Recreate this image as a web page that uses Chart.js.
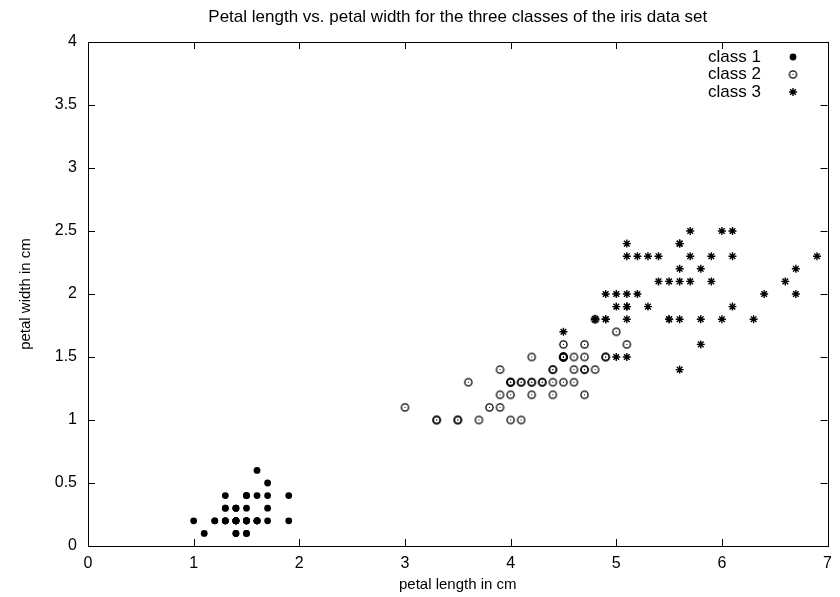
<!DOCTYPE html>
<html>
<head>
<meta charset="utf-8">
<script src="https://cdn.jsdelivr.net/npm/chart.js@4.4.1/dist/chart.umd.min.js"></script>
<style>
  html, body { margin: 0; padding: 0; background: #fff; }
  #wrap { width: 840px; height: 597px; }
</style>
</head>
<body>
<div id="wrap"><canvas id="irisChart" width="840" height="597"></canvas></div>
<script>
// datos: largo y ancho del pétalo (cm) para cada clase
const class1Length = [1.4,1.4,1.3,1.5,1.4,1.7,1.4,1.5,1.4,1.5,1.5,1.6,1.4,1.1,1.2,1.5,1.3,1.4,1.7,1.5,1.7,1.5,1.0,1.7,1.9,1.6,1.6,1.5,1.4,1.6,1.6,1.5,1.5,1.4,1.5,1.2,1.3,1.4,1.3,1.5,1.3,1.3,1.3,1.6,1.9,1.4,1.6,1.4,1.5,1.4];
const class1Width  = [0.2,0.2,0.2,0.2,0.2,0.4,0.3,0.2,0.2,0.1,0.2,0.2,0.1,0.1,0.2,0.4,0.4,0.3,0.3,0.3,0.2,0.4,0.2,0.5,0.2,0.2,0.4,0.2,0.2,0.2,0.2,0.4,0.1,0.2,0.2,0.2,0.2,0.1,0.2,0.2,0.3,0.3,0.2,0.6,0.4,0.3,0.2,0.2,0.2,0.2];

const class2Length = [4.7,4.5,4.9,4.0,4.6,4.5,4.7,3.3,4.6,3.9,3.5,4.2,4.0,4.7,3.6,4.4,4.5,4.1,4.5,3.9,4.8,4.0,4.9,4.7,4.3,4.4,4.8,5.0,4.5,3.5,3.8,3.7,3.9,5.1,4.5,4.5,4.7,4.4,4.1,4.0,4.4,4.6,4.0,3.3,4.2,4.2,4.2,4.3,3.0,4.1];
const class2Width  = [1.4,1.5,1.5,1.3,1.5,1.3,1.6,1.0,1.3,1.4,1.0,1.5,1.0,1.4,1.3,1.4,1.5,1.0,1.5,1.1,1.8,1.3,1.5,1.2,1.3,1.4,1.4,1.7,1.5,1.0,1.1,1.0,1.2,1.6,1.5,1.6,1.5,1.3,1.3,1.3,1.2,1.4,1.2,1.0,1.3,1.2,1.3,1.3,1.1,1.3];

const class3Length = [6.0,5.1,5.9,5.6,5.8,6.6,4.5,6.3,5.8,6.1,5.1,5.3,5.5,5.0,5.1,5.3,5.5,6.7,6.9,5.0,5.7,4.9,6.7,4.9,5.7,6.0,4.8,4.9,5.6,5.8,6.1,6.4,5.6,5.1,5.6,6.1,5.6,5.5,4.8,5.4,5.6,5.1,5.1,5.9,5.7,5.2,5.0,5.2,5.4,5.1];
const class3Width  = [2.5,1.9,2.1,1.8,2.2,2.1,1.7,1.8,1.8,2.5,2.0,1.9,2.1,2.0,2.4,2.3,1.8,2.2,2.3,1.5,2.3,2.0,2.0,1.8,2.1,1.8,1.8,1.8,2.1,1.6,1.9,2.0,2.2,1.5,1.4,2.3,2.4,1.8,1.8,2.1,2.4,2.3,1.9,2.3,2.5,2.3,1.9,2.0,2.3,1.8];

const classNames = ['class 1', 'class 2', 'class 3'];
const xTicks = [0, 1, 2, 3, 4, 5, 6, 7];
const yTicks = [0, 0.5, 1, 1.5, 2, 2.5, 3, 3.5, 4];

const FONT = 'Liberation Sans, Arial, Helvetica, sans-serif';

function toPoints(xs, ys) {
    return xs.map((x, i) => ({ x: x, y: ys[i] }));
}

// círculo abierto con punto central (marcador de la clase 2)
function makeDotCircle() {
    const c = document.createElement('canvas');
    c.width = 11; c.height = 11;
    const g = c.getContext('2d');
    g.strokeStyle = '#000';
    g.lineWidth = 1.3;
    g.beginPath();
    g.arc(5.5, 5.5, 3.6, 0, Math.PI * 2);
    g.stroke();
    g.fillStyle = '#000';
    g.fillRect(5, 5, 1, 1);
    return c;
}
const dotCircle = makeDotCircle();

const markerStyles = [
    { pointStyle: 'circle', radius: 3.4, backgroundColor: '#000', borderColor: '#000', borderWidth: 0 },
    { pointStyle: dotCircle, radius: 4, backgroundColor: '#000', borderColor: '#000', borderWidth: 1 },
    { pointStyle: 'star', radius: 4, backgroundColor: '#000', borderColor: '#000', borderWidth: 1.4 }
];

// marco, marcas interiores, título y leyenda
const framePlugin = {
    id: 'frame',
    afterDraw(chart) {
        const { ctx, chartArea: a, scales: { x, y } } = chart;
        ctx.save();
        ctx.strokeStyle = '#000';
        ctx.lineWidth = 1;
        ctx.strokeRect(Math.round(a.left) + 0.5, Math.round(a.top) + 0.5,
                       Math.round(a.right - a.left), Math.round(a.bottom - a.top));
        const tl = 7;
        ctx.beginPath();
        xTicks.forEach(v => {
            const px = Math.round(x.getPixelForValue(v)) + 0.5;
            ctx.moveTo(px, a.bottom); ctx.lineTo(px, a.bottom - tl);
            ctx.moveTo(px, a.top); ctx.lineTo(px, a.top + tl);
        });
        yTicks.forEach(v => {
            const py = Math.round(y.getPixelForValue(v)) + 0.5;
            ctx.moveTo(a.left, py); ctx.lineTo(a.left + tl, py);
            ctx.moveTo(a.right, py); ctx.lineTo(a.right - tl, py);
        });
        ctx.stroke();

        // título
        ctx.fillStyle = '#000';
        ctx.font = '17px ' + FONT;
        ctx.textAlign = 'center';
        ctx.textBaseline = 'middle';
        ctx.fillText('Petal length vs. petal width for the three classes of the iris data set',
                     (a.left + a.right) / 2, 17);

        // leyenda
        const rows = [57, 74.5, 92];
        ctx.textAlign = 'left';
        ctx.font = '17px ' + FONT;
        classNames.forEach((name, i) => {
            ctx.fillStyle = '#000';
            ctx.fillText(name, 708, rows[i]);
            const m = markerStyles[i];
            ctx.fillStyle = m.backgroundColor;
            ctx.strokeStyle = m.borderColor;
            ctx.lineWidth = m.borderWidth;
            Chart.helpers.drawPoint(ctx, {
                pointStyle: m.pointStyle, radius: m.radius, borderWidth: m.borderWidth, rotation: 0
            }, 793, rows[i]);
        });
        ctx.restore();
    }
};

const ctx = document.getElementById('irisChart').getContext('2d');
new Chart(ctx, {
    type: 'scatter',
    data: {
        datasets: [
            { label: classNames[0], data: toPoints(class1Length, class1Width), ...markerStyles[0] },
            { label: classNames[1], data: toPoints(class2Length, class2Width), ...markerStyles[1] },
            { label: classNames[2], data: toPoints(class3Length, class3Width), ...markerStyles[2] }
        ].map(d => Object.assign(d, {
            pointRadius: d.radius, pointHoverRadius: d.radius,
            pointBackgroundColor: d.backgroundColor, pointBorderColor: d.borderColor,
            pointBorderWidth: d.borderWidth
        }))
    },
    options: {
        responsive: false,
        animation: false,
        layout: { padding: { top: 42, right: 3, left: 0, bottom: 0 } },
        plugins: { legend: { display: false }, title: { display: false }, tooltip: { enabled: false } },
        scales: {
            x: {
                type: 'linear', min: 0, max: 7,
                afterBuildTicks: s => { s.ticks = xTicks.map(v => ({ value: v })); },
                afterFit: s => { s.height = 51; },
                grid: { display: false, drawTicks: false },
                border: { display: false },
                ticks: { padding: 8, color: '#000', font: { family: FONT, size: 16 } },
                title: { display: true, text: 'petal length in cm', color: '#000',
                         font: { family: FONT, size: 15 }, padding: { top: 0, bottom: 3 } }
            },
            y: {
                type: 'linear', min: 0, max: 4,
                afterBuildTicks: s => { s.ticks = yTicks.map(v => ({ value: v })); },
                afterFit: s => { s.width = 88; },
                grid: { display: false, drawTicks: false },
                border: { display: false },
                ticks: { padding: 11, color: '#000', font: { family: FONT, size: 16 },
                         callback: v => String(v) },
                title: { display: true, text: 'petal width in cm', color: '#000',
                         font: { family: FONT, size: 15 }, padding: { top: 17, bottom: 0 } }
            }
        }
    },
    plugins: [framePlugin]
});
</script>
</body>
</html>
